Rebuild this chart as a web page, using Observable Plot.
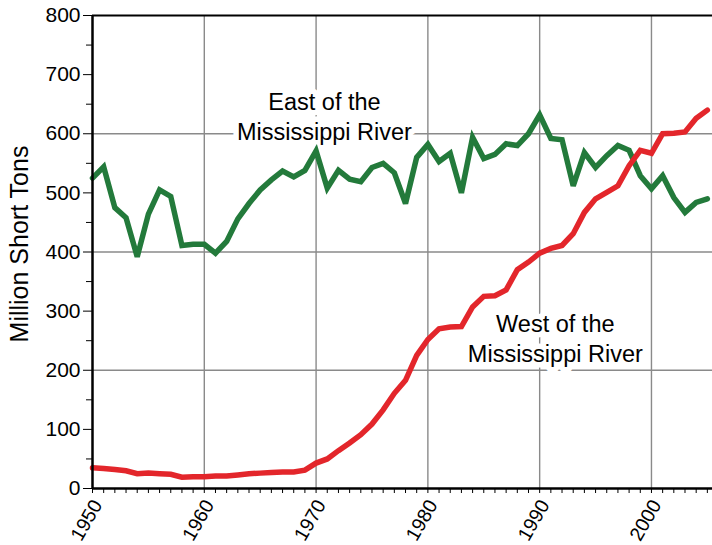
<!DOCTYPE html>
<html><head><meta charset="utf-8">
<script src="https://cdn.jsdelivr.net/npm/d3@7"></script>
<script src="https://cdn.jsdelivr.net/npm/@observablehq/plot@0.6"></script>
<style>html,body{margin:0;padding:0;background:#fff}</style>
</head><body><div id="chart"></div>
<script>
// Coal production, million short tons
const years = d3.range(1950, 2006);
const eastValues = [
  525, 544, 475, 458, 392, 464, 505, 494, 411, 413,
  413, 398, 418, 456, 482, 505, 522, 537, 527, 538,
  571, 508, 538, 523, 519, 543, 550, 534, 482, 560,
  582, 553, 567, 500, 594, 558, 565, 583, 580, 600,
  632, 592, 590, 512, 568, 543, 563, 580, 572, 529,
  507, 529, 492, 467, 484, 490
];
const westValues = [
  35, 34, 32, 30, 25, 26, 25, 24, 19, 20,
  20, 21, 21, 23, 25, 26, 27, 28, 28, 31,
  43, 50, 64, 77, 91, 109, 133, 161, 183, 225,
  252, 270, 273, 274, 307, 325, 326, 336, 370, 383,
  398, 406, 411, 431, 467, 490, 501, 512, 546, 572,
  567, 600, 601, 603, 626, 640
];
const yTicks = [0, 100, 200, 300, 400, 500, 600, 700, 800];
const yMinorTicks = [50, 150, 250, 350, 450, 550, 650, 750];
const xLabelTicks = [1950, 1960, 1970, 1980, 1990, 2000];
const xMinorTicks = d3.range(1950, 2006);
const gridYears = [1960, 1970, 1980, 1990, 2000];
const gridValues = [200, 400, 600];
const eastLabel = "East of the\nMississippi River";
const westLabel = "West of the\nMississippi River";
const yLabel = "Million Short Tons";

const east = years.map((year, i) => ({year, value: eastValues[i]}));
const west = years.map((year, i) => ({year, value: westValues[i]}));

const GREEN = "#237a3b";
const RED = "#e3262b";
const GRID = "#8a8a8a";

const chart = Plot.plot({
  width: 712,
  height: 545,
  marginLeft: 92,
  marginTop: 15,
  marginBottom: 57,
  marginRight: 0,
  style: {fontFamily: "'Liberation Sans', Arial, Helvetica, sans-serif", fontSize: "21px", background: "white", color: "black"},
  x: {domain: [1950, 2005.46]},
  y: {domain: [0, 800]},
  marks: [
    Plot.ruleX(gridYears, {stroke: GRID, strokeWidth: 1.4}),
    Plot.ruleY(gridValues, {stroke: GRID, strokeWidth: 1.4}),
    Plot.text([eastLabel], {x: [1970.75], y: [631], text: d => d, fontSize: 23.5, lineHeight: 1.28, fill: "black", stroke: "white", strokeWidth: 11}),
    Plot.text([westLabel], {x: [1991.4], y: [255], text: d => d, fontSize: 23.5, lineHeight: 1.28, fill: "black", stroke: "white", strokeWidth: 11}),
    Plot.line(east, {x: "year", y: "value", stroke: GREEN, strokeWidth: 5.5, strokeLinejoin: "miter", strokeMiterlimit: 3}),
    Plot.line(west, {x: "year", y: "value", stroke: RED, strokeWidth: 5.5, strokeLinejoin: "miter", strokeMiterlimit: 3}),
    Plot.ruleY([800], {stroke: "black", strokeWidth: 2}),
    Plot.ruleY([0], {stroke: "black", strokeWidth: 2.5}),
    Plot.ruleX([1950], {stroke: "black", strokeWidth: 2.5}),
    Plot.axisY({ticks: yTicks, tickSize: 9, tickPadding: 3, label: null, fontSize: 21}),
    Plot.axisY({ticks: yMinorTicks, tickSize: 6, tickFormat: () => "", label: null}),
    Plot.axisX({ticks: xMinorTicks, tickSize: 5, tickFormat: () => "", label: null}),
    Plot.axisX({ticks: xLabelTicks, tickSize: 0, tickRotate: -60, tickPadding: 13, dx: 5, tickFormat: d => String(d), label: null, fontSize: 19.5}),
    Plot.text([yLabel], {frameAnchor: "left", textAnchor: "middle", rotate: -90, dx: -73, dy: -8, fontSize: 25, fill: "black"})
  ]
});
document.getElementById("chart").append(chart);
</script>
</body></html>
